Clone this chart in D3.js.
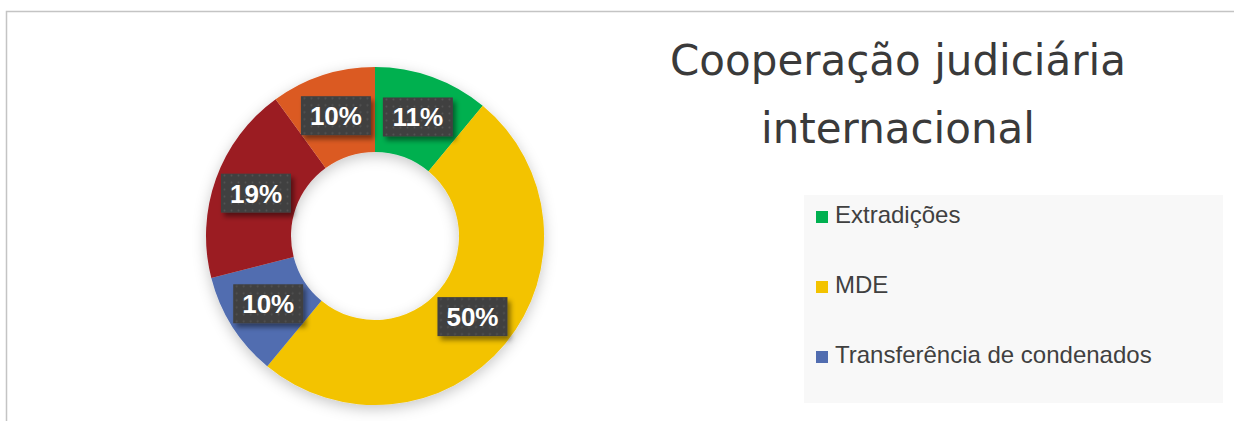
<!DOCTYPE html>
<html>
<head>
<meta charset="utf-8">
<script src="https://cdn.jsdelivr.net/npm/d3@7"></script>
<style>
	body { margin: 0; background: #fff; }
	svg { display: block; }
	.legend-text { font-family: 'Liberation Sans', Arial, sans-serif; font-size: 24px; fill: #404040; }
	.title { font-family: 'DejaVu Sans', Verdana, sans-serif; font-size: 42px; fill: #3a3a3a; }
	.label { font-family: 'Liberation Sans', Arial, sans-serif; font-size: 26px; font-weight: bold; fill: #fff; }
</style>
</head>
<body>
<svg></svg>
<script>
var width = 1234;
var height = 421;

// slices, clockwise from 12 o'clock
var categories = ['Extradições', 'MDE', 'Transferência de condenados', 'Outros A', 'Outros B'];
var values = [11, 50, 10, 19, 10];
var colors = ['#00b050', '#f3c300', '#516db0', '#9b1d23', '#db5a24'];
// only the first three entries fit in the legend box
var legendCount = 3;
var titleLines = ['Cooperação judiciária', 'internacional'];

var data = categories.map((c, i) => ({ name: c, value: values[i], color: colors[i] }));

var svg = d3.select('svg')
			.attr('width', width)
			.attr('height', height);

var defs = svg.append('defs');

var ringShadow = defs.append('filter')
	.attr('id', 'ring-shadow')
	.attr('x', '-30%').attr('y', '-30%')
	.attr('width', '160%').attr('height', '160%');
ringShadow.append('feDropShadow')
	.attr('dx', 0).attr('dy', 4)
	.attr('stdDeviation', 7)
	.attr('flood-color', '#000')
	.attr('flood-opacity', 0.22);

var boxShadow = defs.append('filter')
	.attr('id', 'box-shadow')
	.attr('x', '-30%').attr('y', '-30%')
	.attr('width', '160%').attr('height', '180%');
boxShadow.append('feDropShadow')
	.attr('dx', 3).attr('dy', 4)
	.attr('stdDeviation', 2.5)
	.attr('flood-color', '#000')
	.attr('flood-opacity', 0.45);

var dots = defs.append('pattern')
	.attr('id', 'dots')
	.attr('patternUnits', 'userSpaceOnUse')
	.attr('width', 7).attr('height', 7);
dots.append('rect')
	.attr('width', 7).attr('height', 7)
	.attr('fill', '#404040');
dots.append('circle')
	.attr('cx', 3.5).attr('cy', 3.5).attr('r', 1)
	.attr('fill', '#545454');

// chart area border (right and bottom edges fall outside the frame)
svg.append('rect')
	.attr('x', 6.5).attr('y', 11.5)
	.attr('width', width + 20).attr('height', height + 20)
	.attr('fill', 'none')
	.attr('stroke', '#c4c4c4')
	.attr('stroke-width', 1.5);

var cx = 375, cy = 236;
var outerR = 169, innerR = 84;

var pie = d3.pie()
			.sort(null)
			.value(d => d.value);
var arc = d3.arc()
			.innerRadius(innerR)
			.outerRadius(outerR);

var arcs = pie(data);

var chart = svg.append('g')
	.attr('transform', `translate(${cx}, ${cy})`);

chart.append('g')
	.attr('filter', 'url(#ring-shadow)')
  .selectAll('path')
  .data(arcs)
  .enter()
  .append('path')
	.attr('d', arc)
	.attr('fill', d => d.data.color);

var labels = chart.selectAll('.label-g')
	.data(arcs)
	.enter()
	.append('g')
	  .classed('label-g', true)
	  .attr('transform', d => `translate(${arc.centroid(d)})`);

labels.append('rect')
	.attr('x', -35).attr('y', -19.5)
	.attr('width', 70).attr('height', 39)
	.attr('fill', 'url(#dots)')
	.attr('filter', 'url(#box-shadow)');

labels.append('text')
	.classed('label', true)
	.attr('text-anchor', 'middle')
	.attr('dy', '0.36em')
	.text(d => Math.round(d.data.value / d3.sum(values) * 100) + '%');

// title
svg.append('text')
	.classed('title', true)
	.attr('text-anchor', 'middle')
  .selectAll('tspan')
  .data(titleLines)
  .enter()
  .append('tspan')
	.attr('x', 898)
	.attr('y', (d, i) => 75 + i * 68)
	.text(d => d);

// legend
svg.append('rect')
	.attr('x', 804).attr('y', 195)
	.attr('width', 419).attr('height', 208)
	.attr('fill', '#f8f8f8');

var legendY = d3.scalePoint()
				.domain(categories.slice(0, legendCount))
				.range([223, 363]);

var legend = svg.selectAll('.legend-item')
	.data(data.slice(0, legendCount))
	.enter()
	.append('g')
	  .classed('legend-item', true)
	  .attr('transform', d => `translate(816, ${legendY(d.name)})`);

legend.append('rect')
	.attr('x', 0).attr('y', -12)
	.attr('width', 12).attr('height', 12)
	.attr('fill', d => d.color);

legend.append('text')
	.classed('legend-text', true)
	.attr('x', 19)
	.attr('y', 0)
	.text(d => d.name);
</script>
</body>
</html>
